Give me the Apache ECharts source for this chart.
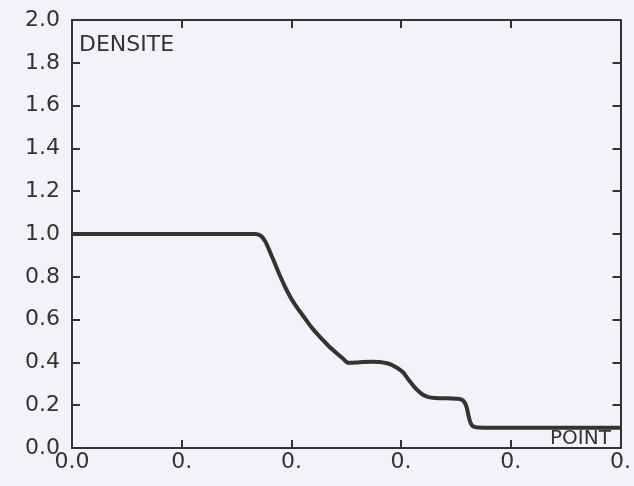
<!DOCTYPE html>
<html>
<head>
<meta charset="utf-8">
<script src="https://cdn.jsdelivr.net/npm/echarts@6/dist/echarts.min.js"></script>
<style>
html,body{margin:0;padding:0;background:#f1f3f7;}
#main{width:634px;height:486px;}
</style>
</head>
<body>
<div id="main"></div>
<script>
// valeurs
var xs = [0.0, 0.20, 0.335, 0.345, 0.353, 0.362, 0.371, 0.380, 0.389, 0.398, 0.410, 0.423, 0.437, 0.452, 0.467, 0.482, 0.494, 0.504,
          0.518, 0.531, 0.546, 0.560, 0.576, 0.590, 0.603, 0.614, 0.626, 0.639, 0.650, 0.662, 0.704, 0.713, 0.719, 0.723, 0.727, 0.732, 0.740, 0.770, 0.90, 1.0];
var densite = [1.0, 1.0, 1.0, 0.99, 0.962, 0.91, 0.855, 0.80, 0.75, 0.706, 0.657, 0.612, 0.563, 0.519, 0.479, 0.444, 0.418, 0.398,
               0.399, 0.402, 0.403, 0.402, 0.395, 0.379, 0.355, 0.318, 0.28, 0.25, 0.238, 0.234, 0.230, 0.222, 0.195, 0.15, 0.115, 0.100, 0.096, 0.095, 0.095, 0.095];
var xLabels = ['0.0', '0.', '0.', '0.', '0.', '0.'];
var yLabels = ['0.0', '0.2', '0.4', '0.6', '0.8', '1.0', '1.2', '1.4', '1.6', '1.8', '2.0'];

var ink = '#333333';
var font = 'DejaVu Sans';

var pts = [];
for (var i = 0; i < xs.length; i++) pts.push([xs[i], densite[i]]);

var axisCommon = {
    type: 'value',
    axisLine: {show: true, onZero: false, lineStyle: {color: ink, width: 2}},
    axisTick: {show: true, inside: true, length: 8, lineStyle: {color: ink, width: 2}},
    splitLine: {show: false}
};

var option = {
    backgroundColor: '#f1f3f7',
    animation: false,
    grid: {left: 72, right: 7, top: 20, bottom: 38},
    graphic: [
        {type: 'text', left: 79, top: 34, style: {text: 'DENSITE', font: '22px "' + font + '"', fill: ink}},
        {type: 'text', left: 550, top: 429, style: {text: 'POINT', font: '20px "' + font + '"', fill: ink}}
    ],
    xAxis: [
        Object.assign({}, axisCommon, {
            min: 0, max: 1, interval: 0.2, position: 'bottom',
            axisLabel: {
                color: ink, fontSize: 22, fontFamily: font, margin: 3,
                formatter: function (v) { return xLabels[Math.round(v / 0.2)]; }
            }
        }),
        Object.assign({}, axisCommon, {
            min: 0, max: 1, interval: 0.2, position: 'top', axisLabel: {show: false}
        })
    ],
    yAxis: [
        Object.assign({}, axisCommon, {
            min: 0, max: 2, interval: 0.2, position: 'left',
            axisLabel: {
                color: ink, fontSize: 22, fontFamily: font, margin: 12,
                formatter: function (v) { return yLabels[Math.round(v / 0.2)]; }
            }
        }),
        Object.assign({}, axisCommon, {
            min: 0, max: 2, interval: 0.2, position: 'right', axisLabel: {show: false}
        })
    ],
    series: [{
        type: 'line',
        data: pts,
        smooth: 0.3,
        showSymbol: false,
        lineStyle: {color: '#333333', width: 4}
    }]
};

echarts.init(document.getElementById('main')).setOption(option);
</script>
</body>
</html>
